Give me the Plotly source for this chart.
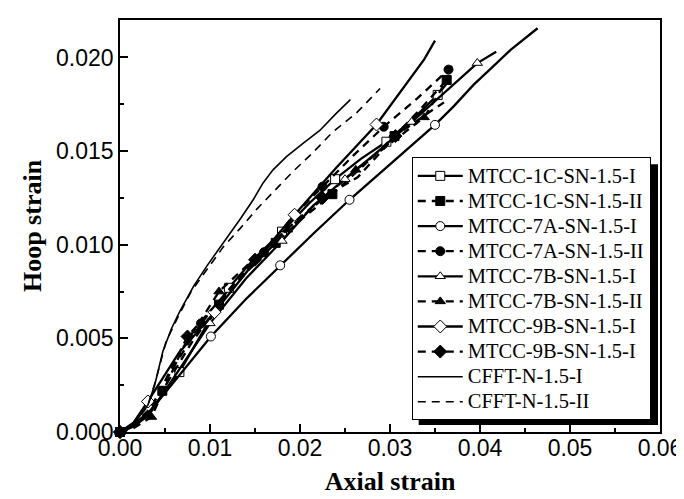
import plotly.graph_objects as go

# ---------------- data (axial strain, hoop strain) ----------------
x_1c_i = [0, 0.0015, 0.0033, 0.0066, 0.0095, 0.0121, 0.0150, 0.0180, 0.0210, 0.0239, 0.0268, 0.0296, 0.0325, 0.0353, 0.0366]
y_1c_i = [0, 0.0004, 0.0011, 0.0032, 0.0056, 0.0077, 0.0093, 0.0107, 0.0122, 0.0135, 0.0146, 0.0155, 0.0167, 0.0180, 0.0188]
m_1c_i = [0, 3, 5, 7, 9, 11, 13]

x_1c_ii = [0, 0.0015, 0.0035, 0.0047, 0.0080, 0.0110, 0.0140, 0.0173, 0.0205, 0.0236, 0.0270, 0.0305, 0.0335, 0.0363]
y_1c_ii = [0, 0.0003, 0.0010, 0.0022, 0.0048, 0.0068, 0.0085, 0.0101, 0.0115, 0.0127, 0.0142, 0.0158, 0.0173, 0.0188]
m_1c_ii = [0, 3, 5, 7, 9, 11, 13]

x_7a_i = [0, 0.0015, 0.0035, 0.0060, 0.0101, 0.0140, 0.0178, 0.0215, 0.0255, 0.0300, 0.0350, 0.0371, 0.0393, 0.0412, 0.0434, 0.0464]
y_7a_i = [0, 0.0003, 0.0012, 0.0027, 0.0051, 0.0071, 0.0089, 0.0106, 0.0124, 0.0143, 0.0164, 0.0174, 0.01855, 0.0194, 0.0204, 0.02156]
m_7a_i = [0, 4, 6, 8, 10]

x_7a_ii = [0, 0.0015, 0.0033, 0.0060, 0.0090, 0.0125, 0.0160, 0.0190, 0.0225, 0.0260, 0.0293, 0.0330, 0.0365, 0.0372]
y_7a_ii = [0, 0.0004, 0.0012, 0.0035, 0.0058, 0.0078, 0.0096, 0.0114, 0.0131, 0.0148, 0.0163, 0.0178, 0.01935, 0.0197]
m_7a_ii = [0, 4, 6, 8, 10, 12]

x_7b_i = [0, 0.0015, 0.0032, 0.0065, 0.0100, 0.0140, 0.0180, 0.0215, 0.0250, 0.0287, 0.0324, 0.0360, 0.0397, 0.0418]
y_7b_i = [0, 0.0003, 0.0009, 0.0033, 0.0058, 0.0082, 0.0102, 0.0121, 0.0135, 0.0150, 0.01655, 0.0181, 0.0197, 0.0203]
m_7b_i = [0, 4, 6, 8, 10, 12]

x_7b_ii = [0, 0.0015, 0.0035, 0.0070, 0.0110, 0.0148, 0.0186, 0.0224, 0.0262, 0.0300, 0.0338, 0.0362]
y_7b_ii = [0, 0.0002, 0.0008, 0.0045, 0.0075, 0.0092, 0.0108, 0.0124, 0.0140, 0.0154, 0.0168, 0.0187]
m_7b_ii = [0, 2, 4, 6, 8, 10]

x_9b_i = [0, 0.0015, 0.0031, 0.0065, 0.0105, 0.0150, 0.0194, 0.0240, 0.0285, 0.0305, 0.0324, 0.0338, 0.0350]
y_9b_i = [0, 0.0005, 0.00163, 0.0042, 0.0064, 0.0091, 0.0116, 0.0141, 0.01642, 0.01775, 0.0190, 0.0199, 0.0209]
m_9b_i = [0, 2, 4, 6, 8]

x_9b_ii = [0, 0.0015, 0.0035, 0.0075, 0.0110, 0.0150, 0.0187, 0.0225, 0.0264, 0.0306, 0.0335, 0.0360]
y_9b_ii = [0, 0.0004, 0.0013, 0.0051, 0.0070, 0.0092, 0.0109, 0.0125, 0.0136, 0.0158, 0.0168, 0.0176]
m_9b_ii = [0, 3, 5, 7, 9]

x_cfft_i = [0, 0.00165, 0.0031, 0.00385, 0.00476, 0.0057, 0.0066, 0.0082, 0.0097, 0.0115, 0.0134, 0.0148, 0.0159, 0.0170, 0.0185, 0.0203, 0.0222, 0.0240, 0.0256]
y_cfft_i = [0, 0.00048, 0.00145, 0.0025, 0.0043, 0.0055, 0.0064, 0.0078, 0.0089, 0.0101, 0.0114, 0.0124, 0.0133, 0.0140, 0.0147, 0.0154, 0.0161, 0.0170, 0.01775]

x_cfft_ii = [0, 0.0016, 0.0031, 0.0040, 0.0051, 0.0064, 0.0079, 0.0097, 0.0115, 0.0134, 0.0152, 0.0170, 0.0192, 0.0214, 0.0236, 0.0262, 0.0289]
y_cfft_ii = [0, 0.00045, 0.0014, 0.0028, 0.0048, 0.0061, 0.0075, 0.0087, 0.0099, 0.0109, 0.0119, 0.0128, 0.0139, 0.0149, 0.0160, 0.0170, 0.01834]

names = ["MTCC-1C-SN-1.5-I", "MTCC-1C-SN-1.5-II", "MTCC-7A-SN-1.5-I", "MTCC-7A-SN-1.5-II",
         "MTCC-7B-SN-1.5-I", "MTCC-7B-SN-1.5-II", "MTCC-9B-SN-1.5-I", "MTCC-9B-SN-1.5-I",
         "CFFT-N-1.5-I", "CFFT-N-1.5-II"]

x_ticks = [0.00, 0.01, 0.02, 0.03, 0.04, 0.05, 0.06]
y_ticks = [0.000, 0.005, 0.010, 0.015, 0.020]

# ---------------- figure ----------------
SERIF = "Liberation Serif, Times New Roman, serif"
SANS = "Liberation Sans, Arial, sans-serif"
CLEAR = "rgba(0,0,0,0)"

series = [
    (x_1c_i, y_1c_i, m_1c_i, "square", False, "solid"),
    (x_1c_ii, y_1c_ii, m_1c_ii, "square", True, "8px,6px"),
    (x_7a_i, y_7a_i, m_7a_i, "circle", False, "solid"),
    (x_7a_ii, y_7a_ii, m_7a_ii, "circle", True, "8px,6px"),
    (x_7b_i, y_7b_i, m_7b_i, "triangle-up", False, "solid"),
    (x_7b_ii, y_7b_ii, m_7b_ii, "triangle-up", True, "8px,6px"),
    (x_9b_i, y_9b_i, m_9b_i, "diamond", False, "solid"),
    (x_9b_ii, y_9b_ii, m_9b_ii, "diamond", True, "8px,6px"),
]

def label(nm):
    return '<span style="font-size:20.5px">' + nm + '</span>'

fig = go.Figure()

for (xs, ys, marks, sym, filled, dash), nm in zip(series, names[:8]):
    fill_c = [("black" if filled else "white") if i in marks else CLEAR for i in range(len(xs))]
    line_c = ["black" if i in marks else CLEAR for i in range(len(xs))]
    size = 10 if sym == "diamond" else 9
    fig.add_trace(go.Scatter(
        x=xs, y=ys, mode="lines+markers", name=label(nm),
        line=dict(color="black", width=2.3, dash=dash),
        marker=dict(symbol=sym, size=size, color=fill_c,
                    line=dict(color=line_c, width=1)),
        cliponaxis=False,
    ))

fig.add_trace(go.Scatter(
    x=x_cfft_i, y=y_cfft_i, mode="lines", name=label(names[8]),
    line=dict(color="black", width=1.6), cliponaxis=False))
fig.add_trace(go.Scatter(
    x=x_cfft_ii, y=y_cfft_ii, mode="lines", name=label(names[9]),
    line=dict(color="black", width=1.6, dash="8px,6px"), cliponaxis=False))

# plot area in pixels
L, R, T, B = 112, 26, 10, 75
W, H = 684, 499
pw, ph = W - L - R, H - T - B

def px_x(p):
    return (p - L) / pw

def px_y(p):
    return (H - B - p) / ph

# legend shadow
fig.add_shape(type="rect", xref="paper", yref="paper",
              x0=px_x(414), x1=px_x(656), y0=px_y(417), y1=px_y(155),
              fillcolor="black", line=dict(width=0), layer="above")

fig.update_layout(
    width=W, height=H,
    margin=dict(l=L, r=R, t=T, b=B, pad=0),
    paper_bgcolor="white", plot_bgcolor="white",
    showlegend=True,
    legend=dict(x=px_x(407), y=px_y(148), xanchor="left", yanchor="top",
                bgcolor="white", bordercolor="black", borderwidth=1,
                font=dict(family=SERIF, size=17, color="black"),
                itemwidth=45, tracegroupgap=0),
    xaxis=dict(range=[0, 0.06], tickvals=x_ticks, tickformat=".2f",
               ticks="inside", ticklen=8, tickwidth=1.5, tickcolor="black",
               minor=dict(ticks="inside", ticklen=4, tickwidth=1.5, dtick=0.005, tickcolor="black"),
               showline=True, linecolor="black", linewidth=1.5, mirror=True,
               showgrid=False, zeroline=False, ticklabelstandoff=-5,
               tickfont=dict(family=SANS, size=23, color="black"),
               title=dict(text="Axial strain", standoff=11,
                          font=dict(family=SERIF, size=26, color="black", weight="bold"))),
    yaxis=dict(range=[0, 0.022], tickvals=y_ticks, tickformat=".3f",
               ticks="inside", ticklen=8, tickwidth=1.5, tickcolor="black",
               minor=dict(ticks="inside", ticklen=4, tickwidth=1.5, dtick=0.0025, tickcolor="black"),
               showline=True, linecolor="black", linewidth=1.5, mirror=True,
               showgrid=False, zeroline=False,
               tickfont=dict(family=SANS, size=23, color="black"),
               title=dict(text="Hoop strain", standoff=7,
                          font=dict(family=SERIF, size=26, color="black", weight="bold"))),
)

fig.write_html("out.html")
